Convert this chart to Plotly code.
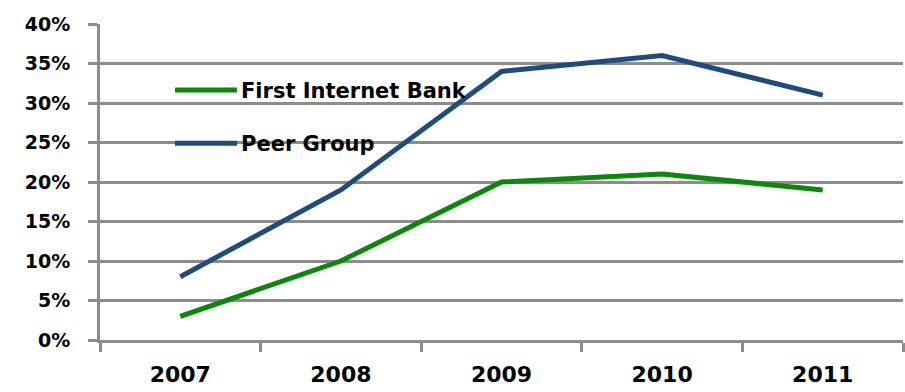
import plotly.graph_objects as go

years = ["2007", "2008", "2009", "2010", "2011"]
series_names = ["First Internet Bank", "Peer Group"]
first_internet_bank = [0.03, 0.10, 0.20, 0.21, 0.19]
peer_group = [0.08, 0.19, 0.34, 0.36, 0.31]
y_ticks = [0, 0.05, 0.10, 0.15, 0.20, 0.25, 0.30, 0.35, 0.40]

GREEN = "#0b870b"
BLUE = "#1f4b7f"
GRID = "#8c8c8c"
FONT = "DejaVu Sans"

fig = go.Figure()
for name, values, color in zip(series_names, [first_internet_bank, peer_group], [GREEN, BLUE]):
    fig.add_trace(go.Scatter(
        x=years, y=values, mode="lines", name=name,
        line=dict(color=color, width=5), showlegend=False,
    ))

# In-plot key: long line samples followed by the series names
key_rows = [0.791, 0.623]
for name, color, ky in zip(series_names, [GREEN, BLUE], key_rows):
    fig.add_shape(
        type="line", xref="paper", yref="paper",
        x0=0.0934, x1=0.1706, y0=ky, y1=ky,
        line=dict(color=color, width=5),
    )
    fig.add_annotation(
        xref="paper", yref="paper", x=0.1730, y=ky - 0.004,
        xanchor="left", yanchor="middle", showarrow=False,
        text=name, font=dict(size=21, family=FONT, color="black", weight="bold"),
    )

fig.update_layout(
    width=905, height=392,
    margin=dict(l=100, r=2, t=24, b=52),
    paper_bgcolor="white", plot_bgcolor="white",
    font=dict(family=FONT, color="black"),
    showlegend=False,
    xaxis=dict(
        type="category", showgrid=False,
        showline=True, linecolor=GRID, linewidth=3,
        ticks="outside", ticklen=9, tickcolor=GRID, tickwidth=3,
        tickson="boundaries",
        tickfont=dict(size=22, family=FONT, weight="bold"),
        ticklabelstandoff=13,
        range=[-0.5, 4.5],
    ),
    yaxis=dict(
        range=[0, 0.40], tickvals=y_ticks, tickformat=".0%",
        showgrid=True, gridcolor=GRID, gridwidth=3,
        showline=True, linecolor=GRID, linewidth=3,
        ticks="outside", ticklen=9, tickcolor=GRID, tickwidth=3,
        tickfont=dict(size=19, family=FONT, weight="bold"),
        ticklabelstandoff=14,
        zeroline=False,
    ),
)

fig.write_html("out.html")
